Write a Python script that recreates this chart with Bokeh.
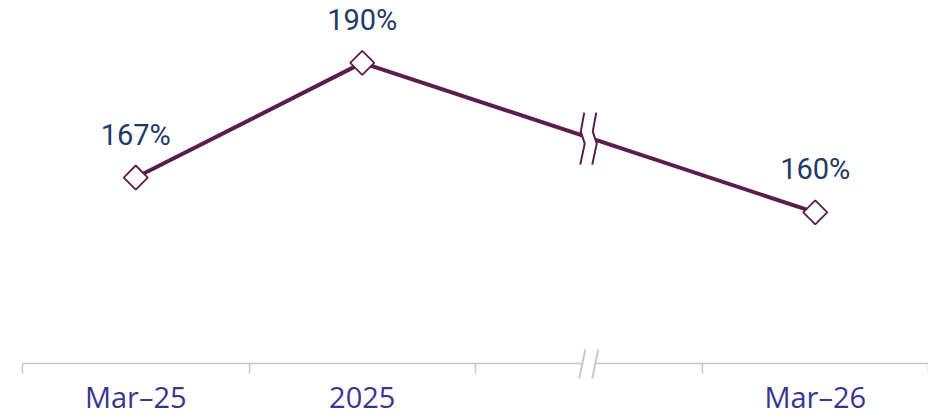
import math
from bokeh.plotting import figure
from bokeh.models import LinearAxis, FixedTicker, ColumnDataSource
from bokeh.core.properties import value
from bokeh.embed import file_html
from bokeh.resources import INLINE

# ---- data ----
categories = ["Mar–25", "2025", "", "Mar–26"]
values = [167, 190, None, 160]
label_suffix = "%"
break_index = 2  # empty category where the axis is broken

# ---- styles ----
LINE = "#5a1d50"
LABEL = "#1f3a66"
AXLAB = "#3b3592"
AXIS = "#c8c8c8"
FONT = "Roboto"
AXFONT = "Open Sans"

W, H = 928, 419
BL, BR, BT, BB = 22, 0, 8, 56
x_lo, x_hi = 0, len(categories)
y_lo, y_hi = 129.7, 200.9
fw = W - BL - BR
fh = H - BT - BB
px_x = (x_hi - x_lo) / fw
px_y = (y_hi - y_lo) / fh

p = figure(width=W, height=H, x_range=(x_lo, x_hi), y_range=(y_lo, y_hi),
           output_backend="svg", toolbar_location=None,
           x_axis_location=None, y_axis_location=None,
           min_border_left=BL, min_border_right=BR, min_border_top=BT,
           min_border_bottom=BB)
p.outline_line_color = None
p.grid.visible = False
p.background_fill_color = "white"
p.border_fill_color = "white"

# points
xs = [i + 0.5 for i, v in enumerate(values) if v is not None]
ys = [v for v in values if v is not None]
labels = [f"{v}{label_suffix}" for v in ys]
src = ColumnDataSource(dict(x=xs, y=ys, t=labels))

p.line("x", "y", source=src, line_color=LINE, line_width=4)

# break in the line at the empty category
bx = break_index + 0.5
prev_i = max(i for i in range(break_index) if values[i] is not None)
next_i = min(i for i in range(break_index + 1, len(values)) if values[i] is not None)
t = (bx - (prev_i + 0.5)) / ((next_i + 0.5) - (prev_i + 0.5))
by = values[prev_i] + t * (values[next_i] - values[prev_i])

shape = [(1.5, -25), (-2.0, -6), (2.0, 6), (-2.5, 27)]
def mark(cx_px):
    mx = [bx + (cx_px + dx) * px_x for dx, dy in shape]
    my = [by - dy * px_y for dx, dy in shape]
    return mx, my

lx, ly = mark(-6)
rx, ry = mark(6)
p.patch(lx + rx[::-1], ly + ry[::-1], fill_color="white", line_color=None)
p.multi_line([lx, rx], [ly, ry], line_color=LINE, line_width=2)

p.scatter("x", "y", source=src, marker="square", angle=math.pi / 4, size=17,
          fill_color="white", line_color=LINE, line_width=1.8)

p.text("x", "y", text="t", source=src, text_align="center",
       text_baseline="alphabetic", y_offset=-43,
       text_font=value(FONT), text_font_size="29px", text_color=LABEL)

# x axis
ticker = FixedTicker(ticks=[i + 0.5 for i, c in enumerate(categories) if c],
                     minor_ticks=list(range(len(categories) + 1)))
ax = LinearAxis(ticker=ticker)
ax.major_label_overrides = {i + 0.5: c for i, c in enumerate(categories) if c}
ax.axis_line_color = AXIS
ax.axis_line_width = 1.5
ax.major_tick_line_color = None
ax.major_tick_in = 0
ax.major_tick_out = 0
ax.minor_tick_line_color = AXIS
ax.minor_tick_line_width = 1.5
ax.minor_tick_in = 0
ax.minor_tick_out = 10
ax.major_label_standoff = 3
ax.major_label_text_font = AXFONT
ax.major_label_text_font_size = "29px"
ax.major_label_text_color = AXLAB
p.add_layout(ax, "below")

# axis break slashes
sl = [(3, -14), (-3, 15)]
gap = p.patch([bx - 6 * px_x, bx + 6 * px_x, bx + 6 * px_x, bx - 6 * px_x],
              [y_lo + 2 * px_y, y_lo + 2 * px_y, y_lo - 2 * px_y, y_lo - 2 * px_y],
              fill_color="white", line_color=None)
gap.level = "overlay"
sxs = [[bx + (c + dx) * px_x for dx, dy in sl] for c in (-6.5, 6.5)]
sys_ = [[y_lo - dy * px_y for dx, dy in sl] for c in (-6.5, 6.5)]
sr = p.multi_line(sxs, sys_, line_color=AXIS, line_width=2)
sr.level = "overlay"

open("out.html", "w").write(file_html(p, INLINE))
